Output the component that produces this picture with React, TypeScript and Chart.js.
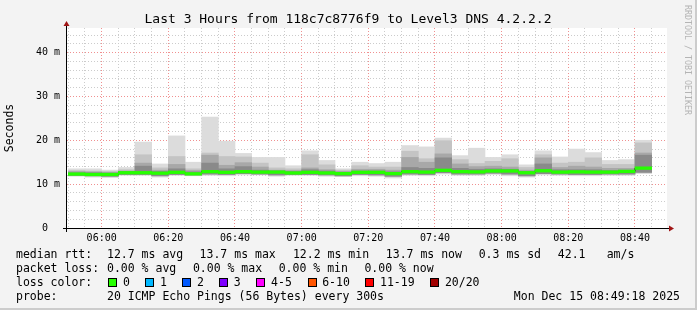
import React, { useEffect, useRef } from 'react';
import { Chart, registerables } from 'chart.js';

Chart.register(...registerables);

// ---- data ----
const binTimes = [
  '05:50', '05:55', '06:00', '06:05', '06:10', '06:15', '06:20', '06:25', '06:30', '06:35',
  '06:40', '06:45', '06:50', '06:55', '07:00', '07:05', '07:10', '07:15', '07:20', '07:25',
  '07:30', '07:35', '07:40', '07:45', '07:50', '07:55', '08:00', '08:05', '08:10', '08:15',
  '08:20', '08:25', '08:30', '08:35', '08:40',
];
const pingMax = [
  13.5, 13.5, 13.2, 13.8, 19.6, 14.6, 21.0, 15.0, 25.3, 19.8,
  17.0, 16.1, 16.1, 14.2, 17.6, 15.4, 13.5, 15.0, 14.7, 15.0,
  18.8, 18.5, 20.5, 16.5, 18.2, 16.1, 16.7, 14.4, 17.6, 16.2,
  18.0, 17.2, 15.4, 15.6, 20.0,
];
const smokeHi1 = [
  13.1, 13.0, 12.9, 13.3, 16.7, 13.7, 16.3, 13.5, 17.1, 16.3,
  16.2, 14.8, 13.7, 13.5, 16.7, 14.4, 13.2, 14.2, 13.9, 13.9,
  17.5, 15.8, 19.9, 15.6, 14.7, 15.2, 15.8, 13.8, 16.7, 14.8,
  15.0, 16.0, 14.5, 14.5, 19.4,
];
const smokeHi2 = [
  12.9, 12.8, 12.7, 13.0, 14.8, 13.2, 14.5, 13.1, 16.6, 14.3,
  14.9, 13.9, 13.2, 13.1, 13.7, 13.3, 12.9, 13.4, 13.4, 13.2,
  16.1, 15.0, 16.9, 14.6, 14.0, 14.1, 13.9, 13.2, 16.0, 13.8,
  14.1, 13.9, 13.6, 13.6, 17.1,
];
const smokeHi3 = [
  12.6, 12.6, 12.5, 12.9, 14.1, 12.9, 13.5, 12.8, 14.8, 13.5,
  14.0, 13.2, 13.0, 12.9, 13.3, 13.0, 12.7, 13.0, 13.0, 12.8,
  13.8, 13.6, 16.0, 13.6, 13.4, 13.5, 13.4, 12.9, 14.6, 13.3,
  13.3, 13.3, 13.1, 13.2, 16.6,
];
const medianRtt = [
  12.3, 12.2, 12.2, 12.6, 12.6, 12.5, 12.7, 12.35, 12.85, 12.7,
  12.85, 12.75, 12.75, 12.55, 12.7, 12.55, 12.4, 12.7, 12.7, 12.4,
  12.85, 12.75, 13.15, 12.85, 12.8, 13.0, 13.0, 12.6, 13.05, 12.75,
  12.8, 12.75, 12.75, 12.9, 13.65,
];
const smokeLo1 = [
  12.0, 11.9, 11.8, 12.2, 12.2, 11.9, 12.2, 12.1, 12.3, 12.2,
  12.4, 12.3, 12.1, 12.2, 12.2, 12.1, 11.9, 12.2, 12.1, 11.8,
  12.3, 12.2, 12.6, 12.3, 12.3, 12.5, 12.3, 11.9, 12.4, 12.3,
  12.2, 12.2, 12.3, 12.3, 12.7,
];
const pingMin = [
  11.8, 11.6, 11.5, 12.0, 12.0, 11.6, 12.0, 11.9, 12.0, 11.9,
  12.1, 12.1, 11.8, 12.0, 12.0, 11.8, 11.7, 11.9, 11.8, 11.4,
  12.0, 11.9, 12.3, 12.0, 12.0, 12.2, 11.9, 11.6, 12.1, 12.0,
  11.9, 11.9, 12.0, 12.0, 12.4,
];
const xMajorLabels = ['06:00', '06:20', '06:40', '07:00', '07:20', '07:40', '08:00', '08:20', '08:40'];
const yMajorLabels = ['0  ', '10 m', '20 m', '30 m', '40 m'];
const xRange = ['05:49:36', '08:49:36'];
const yMax = 45.6;

const legendRtt = ['median rtt:', '12.7 ms avg', '13.7 ms max', '12.2 ms min', '13.7 ms now', '0.3 ms sd', '42.1', 'am/s'];
const legendLoss = ['packet loss:', '0.00 % avg', '0.00 % max', '0.00 % min', '0.00 % now'];
const lossLabels = ['0', '1', '2', '3', '4-5', '6-10', '11-19', '20/20'];
const lossColors = ['#26ff00', '#00b8ff', '#0059ff', '#7e00ff', '#ff00ff', '#ff5500', '#ff0000', '#a10000'];
const probeText = ['probe:', '20 ICMP Echo Pings (56 Bytes) every 300s', 'Mon Dec 15 08:49:18 2025'];

// ---- layout ----
const MONO = '"DejaVu Sans Mono", "Liberation Mono", monospace';
const rttX = [16, 107, 199.6, 292.9, 385.8, 478.7, 557.8, 606.7];
const lossX = [16, 107, 192.9, 278.7, 364.4];
const swatchX = [108.4, 145.3, 182.2, 219.1, 256.4, 307.6, 365.3, 430.2];
const swatchLabelX = [123.1, 160, 196.9, 233.8, 271.1, 322.2, 380, 444.9];

const toMin = (t: string) => {
  const p = t.split(':').map(Number);
  return p[0] * 60 + p[1] + (p[2] || 0) / 60;
};
const fmt = (v: number) => {
  const h = Math.floor(v / 60);
  const m = Math.round(v - h * 60);
  return String(h).padStart(2, '0') + ':' + String(m).padStart(2, '0');
};

const xMin = toMin(xRange[0]);
const xMax = toMin(xRange[1]);
const majorX = new Set(xMajorLabels.map(toMin));

const framePlugin = {
  id: 'rrdFrame',
  beforeDraw(chart: any) {
    const { ctx, chartArea: a } = chart;
    ctx.save();
    ctx.fillStyle = '#ffffff';
    ctx.fillRect(a.left, a.top, a.right - a.left, a.bottom - a.top);
    ctx.restore();
  },
  afterDraw(chart: any) {
    const { ctx, chartArea: a } = chart;
    ctx.save();
    ctx.strokeStyle = '#000000';
    ctx.lineWidth = 1;
    ctx.beginPath();
    ctx.moveTo(a.left - 0.5, a.top - 5);
    ctx.lineTo(a.left - 0.5, a.bottom + 4);
    ctx.moveTo(a.left - 4, a.bottom + 0.5);
    ctx.lineTo(a.right + 4, a.bottom + 0.5);
    ctx.stroke();
    ctx.fillStyle = '#a01515';
    ctx.beginPath();
    ctx.moveTo(a.left - 0.5, a.top - 7);
    ctx.lineTo(a.left - 3.5, a.top - 2);
    ctx.lineTo(a.left + 2.5, a.top - 2);
    ctx.closePath();
    ctx.fill();
    ctx.beginPath();
    ctx.moveTo(a.right + 7, a.bottom + 0.5);
    ctx.lineTo(a.right + 2, a.bottom - 2.5);
    ctx.lineTo(a.right + 2, a.bottom + 3.5);
    ctx.closePath();
    ctx.fill();
    ctx.restore();
  },
};

function smokeLayer(lo: number[], hi: number[], color: string, order: number) {
  return {
    type: 'bar' as const,
    data: binTimes.map((t, i) => ({ x: toMin(t) + 2.5, y: [lo[i], hi[i]] })),
    backgroundColor: color,
    borderWidth: 0,
    grouped: false,
    barPercentage: 1,
    categoryPercentage: 1,
    order,
  };
}

export default function App() {
  const ref = useRef<HTMLCanvasElement | null>(null);

  useEffect(() => {
    if (!ref.current) return;
    const medianLine = medianRtt.map((m, i) => ({ x: toMin(binTimes[i]) + 2.5, y: m }));
    const chart = new Chart(ref.current, {
      type: 'bar',
      data: {
        datasets: [
          {
            ...smokeLayer(medianRtt.map((m) => m - 0.3), medianRtt.map((m) => m + 0.3), lossColors[0], 0),
          } as any,
          {
            type: 'line',
            data: medianLine,
            borderColor: '#000000',
            borderWidth: 1,
            pointRadius: 0,
            stepped: 'middle',
            fill: false,
            order: 1,
          } as any,
          smokeLayer(smokeLo1, smokeHi3, '#8a8a8a', 2) as any,
          smokeLayer(smokeLo1, smokeHi2, '#a8a8a8', 3) as any,
          smokeLayer(smokeLo1, smokeHi1, '#c4c4c4', 4) as any,
          smokeLayer(pingMin, pingMax, '#dcdcdc', 5) as any,
        ],
      },
      options: {
        animation: false,
        responsive: false,
        maintainAspectRatio: false,
        events: [],
        layout: { padding: { left: 0, right: 30, top: 28, bottom: 0 } },
        plugins: {
          legend: { display: false },
          tooltip: { enabled: false },
          title: { display: false },
        },
        scales: {
          x: {
            type: 'linear',
            min: xMin,
            max: xMax,
            offset: false,
            afterFit: (s: any) => { s.height = 82; },
            afterBuildTicks: (s: any) => {
              const t = [];
              for (let v = Math.ceil(xMin / 5) * 5; v <= xMax; v += 5) t.push({ value: v });
              s.ticks = t;
            },
            ticks: {
              autoSkip: false,
              maxRotation: 0,
              minRotation: 0,
              padding: 4,
              color: '#000000',
              font: { family: MONO, size: 10 },
              callback: (v: any) => (majorX.has(Number(v)) ? fmt(Number(v)) : ''),
            },
            grid: {
              offset: false,
              drawTicks: false,
              lineWidth: 1,
              color: (c: any) => (majorX.has(c.tick?.value) ? '#f09090' : '#cccccc'),
            },
            border: { display: false, dash: [1, 2] },
          },
          y: {
            min: 0,
            max: yMax,
            afterFit: (s: any) => { s.width = 67; },
            afterBuildTicks: (s: any) => {
              const t = [];
              for (let v = 0; v <= yMax; v += 2) t.push({ value: v });
              s.ticks = t;
            },
            ticks: {
              autoSkip: false,
              padding: 7,
              color: '#000000',
              font: { family: MONO, size: 10 },
              callback: (v: any) => (Number(v) % 10 === 0 ? yMajorLabels[Number(v) / 10] : ''),
            },
            grid: {
              drawTicks: false,
              lineWidth: 1,
              color: (c: any) => (c.tick?.value % 10 === 0 ? '#f09090' : '#cccccc'),
            },
            border: { display: false, dash: [1, 2] },
            title: {
              display: true,
              text: 'Seconds',
              color: '#000000',
              font: { family: MONO, size: 11.5 },
              padding: { top: 3, bottom: 0 },
            },
          },
        },
      },
      plugins: [framePlugin],
    } as any);
    return () => chart.destroy();
  }, []);

  const txt = (x: number, cy: number, s: string, extra: any = {}) => (
    <span
      key={s + x + cy}
      style={{
        position: 'absolute', left: x, top: cy - 7, lineHeight: '14px', fontSize: 11.5,
        fontFamily: MONO, color: '#000', whiteSpace: 'pre', ...extra,
      }}
    >
      {s}
    </span>
  );

  return (
    <div
      style={{
        position: 'fixed', left: 0, top: 0, width: 697, height: 310, background: '#f3f3f3',
        overflow: 'hidden', boxSizing: 'border-box', borderRight: '2px solid #cccccc',
        borderBottom: '2px solid #cccccc',
      }}
    >
      <canvas ref={ref} width={697} height={310} style={{ position: 'absolute', left: 0, top: 0 }} />
      <div
        style={{
          position: 'absolute', left: 0, width: 696, top: 11, textAlign: 'center', fontFamily: MONO,
          fontSize: 13, lineHeight: '16px', color: '#000', whiteSpace: 'pre',
        }}
      >
        Last 3 Hours from 118c7c8776f9 to Level3 DNS 4.2.2.2
      </div>
      <div
        style={{
          position: 'absolute', left: 683, top: 5, writingMode: 'vertical-rl', fontFamily: MONO,
          fontSize: 8.3, lineHeight: '10px', color: '#b4b4b4', whiteSpace: 'pre',
        }}
      >
        RRDTOOL / TOBI OETIKER
      </div>
      {legendRtt.map((s, i) => txt(rttX[i], 254.3, s))}
      {legendLoss.map((s, i) => txt(lossX[i], 268.3, s))}
      {txt(16, 282.3, 'loss color:')}
      {lossLabels.map((s, i) => (
        <React.Fragment key={'sw' + i}>
          <div
            style={{
              position: 'absolute', left: Math.round(swatchX[i]), top: 278, width: 7, height: 7,
              background: lossColors[i], border: '1px solid #000',
            }}
          />
          {txt(swatchLabelX[i], 282.3, s)}
        </React.Fragment>
      ))}
      {txt(16, 296.3, probeText[0])}
      {txt(107, 296.3, probeText[1])}
      <span
        style={{
          position: 'absolute', right: 697 - 680 - 2, top: 296.3 - 7, lineHeight: '14px', fontSize: 11.5,
          fontFamily: MONO, color: '#000', whiteSpace: 'pre',
        }}
      >
        {probeText[2]}
      </span>
    </div>
  );
}
